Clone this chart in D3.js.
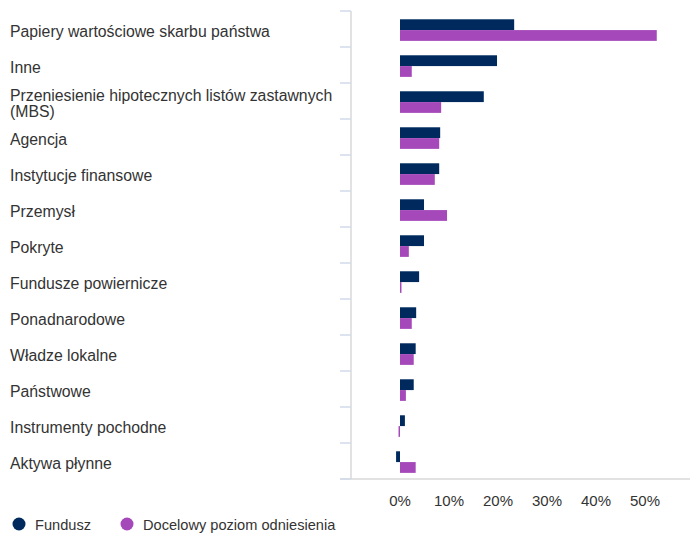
<!DOCTYPE html>
<html><head><meta charset="utf-8">
<script src="https://cdn.jsdelivr.net/npm/d3@7"></script>
<style>body{margin:0;background:#fff}svg{display:block}text{font-family:Arial,"Liberation Sans",sans-serif}</style>
</head><body><svg id="c" width="690" height="533"></svg>
<script>
const categories = ["Papiery wartościowe skarbu państwa","Inne","Przeniesienie hipotecznych listów zastawnych|(MBS)","Agencja","Instytucje finansowe","Przemysł","Pokryte","Fundusze powiernicze","Ponadnarodowe","Władze lokalne","Państwowe","Instrumenty pochodne","Aktywa płynne"];
const fundusz = [23.3,19.8,17.1,8.2,8.0,4.9,4.9,3.9,3.3,3.2,2.8,1.0,-0.8];
const benchmark = [52.4,2.4,8.4,8.0,7.1,9.6,1.8,0.3,2.4,2.8,1.2,-0.3,3.2];
const seriesNames = ["Fundusz","Docelowy poziom odniesienia"];
const ticks = [0,10,20,30,40,50];
const colors = ["#002a5e","#a548b9"];

const svg = d3.select("#c");
const x = d3.scaleLinear().domain([0,50]).range([400,645]);
const y = d3.scaleBand().domain(d3.range(categories.length)).range([11,479]).paddingInner(0).paddingOuter(0);
const bandH = y.bandwidth();
const barH = bandH*0.3;
const off = bandH*0.23;

svg.append("line").attr("x1",351).attr("x2",351).attr("y1",11).attr("y2",479).attr("stroke","#d9d9d9").attr("stroke-width",1.5);
svg.append("line").attr("x1",340).attr("x2",690).attr("y1",479).attr("y2",479).attr("stroke","#d9d9d9").attr("stroke-width",1.5);
svg.selectAll(".tk").data(d3.range(categories.length+1)).join("line")
  .attr("x1",340).attr("x2",351)
  .attr("y1",i=>11+i*bandH).attr("y2",i=>11+i*bandH)
  .attr("stroke","#d3dbea").attr("stroke-width",1.5);

[fundusz,benchmark].forEach((vals,s)=>{
  svg.selectAll(".b"+s).data(vals).join("rect")
    .attr("x",d=>x(Math.min(0,d)))
    .attr("width",d=>Math.abs(x(d)-x(0)))
    .attr("y",(d,i)=>y(i)+off+s*barH)
    .attr("height",barH)
    .attr("fill",colors[s]);
});

categories.forEach((c,i)=>{
  const lines=c.split("|");
  const cy=y(i)+bandH/2;
  const t=svg.append("text").attr("x",10).attr("font-size",15.8).attr("fill","#333");
  lines.forEach((l,j)=>{
    t.append("tspan").attr("x",10).attr("y",cy+7.5+(j-(lines.length-1)/2)*16).text(l);
  });
});

svg.selectAll(".tl").data(ticks).join("text")
  .attr("x",d=>x(d)).attr("y",505.5).attr("text-anchor","middle")
  .attr("font-size",15).attr("fill","#333").text(d=>d+"%");

const lg=[{x:19,t:seriesNames[0]},{x:127,t:seriesNames[1]}];
lg.forEach((l,i)=>{
  svg.append("circle").attr("cx",l.x).attr("cy",524).attr("r",6.5).attr("fill",colors[i]);
  svg.append("text").attr("x",l.x+16).attr("y",530).attr("font-size",14.6).attr("fill","#333").text(l.t);
});
</script></body></html>
